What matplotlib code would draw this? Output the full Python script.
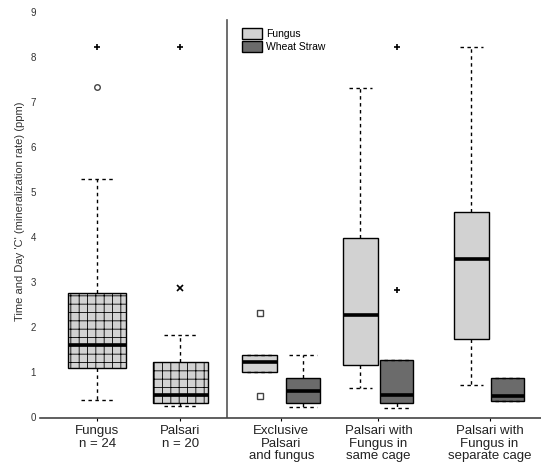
import numpy as np
import matplotlib.pyplot as plt
from matplotlib.patches import Patch

plt.rcParams['font.family'] = ['Liberation Sans', 'DejaVu Sans']
plt.rcParams['hatch.linewidth'] = 0.6

# box statistics read per group (q1, median, q3, lower/upper whisker)
names = ["Fungus single", "Palsari single",
         "Excl fungus", "Excl straw",
         "With fungus", "With straw",
         "Sep fungus", "Sep straw"]
q1 = [1.10, 0.31, 1.00, 0.31, 1.16, 0.31, 1.73, 0.36]
med = [1.60, 0.50, 1.22, 0.58, 2.27, 0.49, 3.51, 0.47]
q3 = [2.75, 1.22, 1.38, 0.87, 3.98, 1.27, 4.56, 0.87]
whislo = [0.38, 0.25, 1.00, 0.22, 0.64, 0.20, 0.71, 0.36]
whishi = [5.30, 1.82, 1.38, 1.38, 7.31, 1.27, 8.22, 0.87]

# outliers: (box index, value, marker)
out_idx = [0, 0, 1, 1, 2, 2, 5, 5]
out_val = [8.22, 7.33, 8.22, 2.87, 2.31, 0.47, 8.22, 2.82]
out_mark = ['+', 'o', '+', 'x', 's', 's', '+', '+']

cat_labels = ["Fungus\nn = 24", "Palsari\nn = 20",
              "Exclusive\nPalsari\nand fungus", "Palsari with\nFungus in\nsame cage",
              "Palsari with\nFungus in\nseparate cage"]
legend_labels = ["Fungus", "Wheat Straw"]

light = "#d2d2d2"
dark = "#6b6b6b"

pos = [1.0, 2.0, 2.96, 3.48, 4.17, 4.61, 5.51, 5.95]
widths = [0.70, 0.66, 0.42, 0.40, 0.42, 0.40, 0.42, 0.40]
capw = [0.40, 0.40, 0.30, 0.33, 0.28, 0.30, 0.28, 0.30]
colors = [light, light, light, dark, light, dark, light, dark]
tick_pos = [1.0, 2.0, 3.22, 4.39, 5.73]

stats = []
for i in range(len(names)):
    stats.append(dict(label=names[i], q1=q1[i], med=med[i], q3=q3[i],
                      whislo=whislo[i], whishi=whishi[i], fliers=[]))

fig = plt.figure(figsize=(5.41, 4.69), dpi=100)
ax = fig.add_axes([40 / 541, 51 / 469, 501 / 541, 413 / 469])

bp = ax.bxp(stats, positions=pos, widths=widths, capwidths=capw,
            patch_artist=True, showfliers=False,
            boxprops=dict(edgecolor="black", linewidth=1.0),
            medianprops=dict(color="black", linewidth=2.6),
            whiskerprops=dict(color="black", linewidth=1.0, linestyle=(0, (2.5, 2.5))),
            capprops=dict(color="black", linewidth=1.0, linestyle=(0, (2.5, 2.5))))

for i, box in enumerate(bp['boxes']):
    box.set_facecolor(colors[i])
    if i < 2:
        box.set_hatch('++')

for i, v, m in zip(out_idx, out_val, out_mark):
    if m in ('+', 'x'):
        ax.plot(pos[i], v, marker=m, color="black", markersize=5, mew=1.2, ls='none')
    else:
        ax.plot(pos[i], v, marker=m, mfc="none", mec="#444444", markersize=4, mew=1.0, ls='none')

# divider between the single-species and paired groups
ax.plot([2.566, 2.566], [-0.02, 8.82], color="#555555", lw=1.2)

ax.set_xlim(0.31, 6.35)
ax.set_ylim(-0.02, 9.16)
ax.set_yticks(range(10))
ax.tick_params(axis='y', labelsize=7, length=0, pad=3, labelcolor="#333333")
ax.set_xticks(tick_pos)
ax.set_xticklabels(cat_labels, fontsize=9.5, linespacing=1.08, color="#222222")
ax.tick_params(axis='x', length=2, pad=3)
for s in ['top', 'right', 'left']:
    ax.spines[s].set_visible(False)
ax.spines['bottom'].set_linewidth(1.2)
ax.spines['bottom'].set_color("#444444")

ax.set_ylabel("Time and Day 'C' (mineralization rate) (ppm)", fontsize=8,
              color="#333333", labelpad=4)

handles = [Patch(facecolor=light, edgecolor="black"), Patch(facecolor=dark, edgecolor="black")]
ax.legend(handles, legend_labels, loc="upper left", bbox_to_anchor=(0.395, 0.955),
          frameon=False, fontsize=7.5, handlelength=1.9, handleheight=1.3,
          labelspacing=0.15, handletextpad=0.4, borderaxespad=0)

fig.savefig("out.png", dpi=100)
